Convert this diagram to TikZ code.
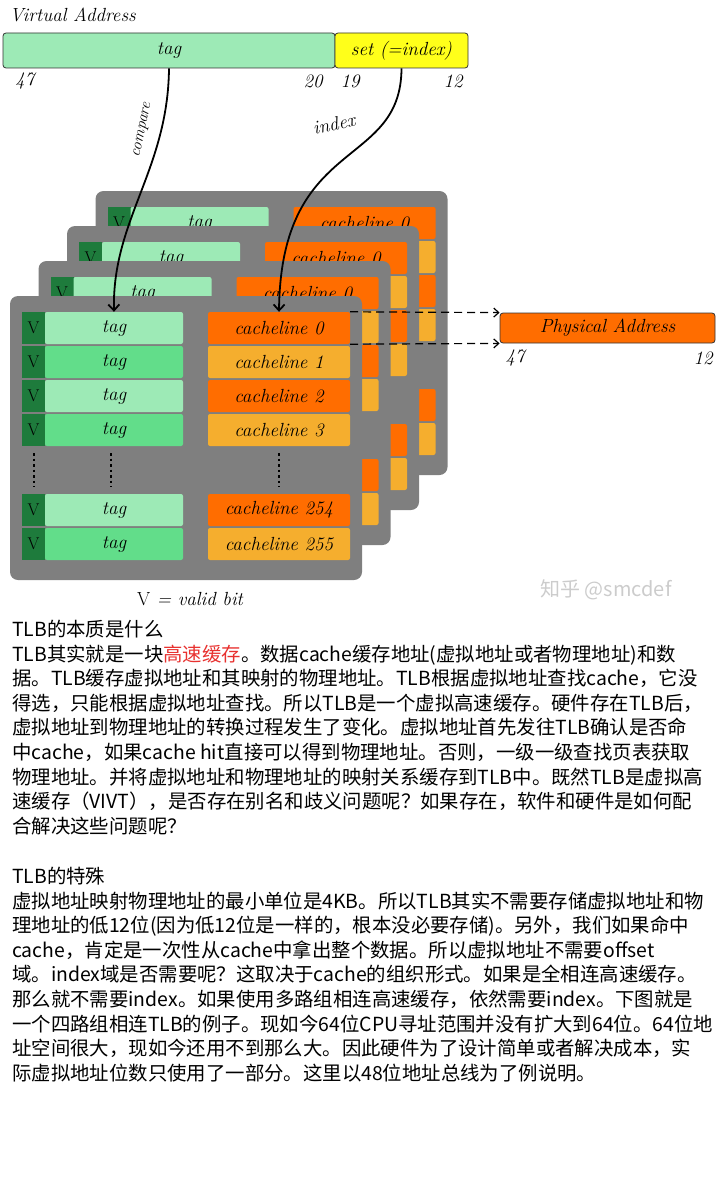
\documentclass[tikz,border=0pt]{standalone}
\usepackage{fontspec}
\usepackage{tikz}
\usetikzlibrary{arrows.meta,calc,positioning}
\newfontfamily\cjk{Noto Sans CJK SC}
\definecolor{panelgray}{HTML}{7F7F7F}
\definecolor{vgreen}{HTML}{1E7B3C}
\definecolor{taglight}{HTML}{9DEAB6}
\definecolor{tagmid}{HTML}{62DD8A}
\definecolor{clorange}{HTML}{FF6D00}
\definecolor{clyellow}{HTML}{F5AE2E}
\definecolor{setyellow}{HTML}{FFFF1A}
\definecolor{hlred}{HTML}{E8312F}
\tikzset{
	hand/.style={font=\itshape\fontsize{19}{22}\selectfont},
	bar/.style={draw=black!80, line width=0.8pt, rounded corners=3pt, minimum height=35pt, inner sep=0pt, hand},
	vcell/.style={fill=vgreen, minimum width=23pt, minimum height=32pt, inner sep=0pt, font=\fontsize{17}{20}\selectfont},
	tagcell/.style={minimum width=138pt, minimum height=32pt, inner sep=0pt, rounded corners=2pt, hand},
	clcell/.style={minimum width=142pt, minimum height=32pt, inner sep=0pt, rounded corners=2pt, hand},
	link/.style={line width=1.8pt, -{Straight Barb[length=6pt,width=11pt]}},
	linklabel/.style={hand, inner sep=0pt},
	hit/.style={line width=1.2pt, dash pattern=on 8pt off 5pt, -{Straight Barb[length=5pt,width=9pt]}},
	prose/.style={anchor=north west, align=left, inner sep=0pt, font=\cjk\fontsize{19.4}{24.6}\selectfont}
}
\begin{document}
\begin{tikzpicture}[x=1pt, y=-1pt]
	\useasboundingbox (0,0) rectangle (720,1180);
	% virtual address
	\node[hand, anchor=west] (vatitle) at (6,15) {Virtual Address};
	\node[bar, fill=taglight, minimum width=332pt] (tagbar) at (169,50.5) {tag};
	\node[bar, fill=setyellow, minimum width=133pt] (setbar) at (401.5,50.5) {set (=index)};
	\node[hand] (va47) at (25,81) {47};
	\node[hand] (va20) at (313,81) {20};
	\node[hand] (va19) at (350,81) {19};
	\node[hand] (va12) at (453,81) {12};
	% four ways, back to front
	\foreach \k in {3,2,1,0}{
		\begin{scope}[shift={(28.5*\k,-35*\k)}]
			\fill[panelgray, rounded corners=8pt] (10,296) rectangle (362,580);
			\foreach \y/\tc/\cc/\n [count=\i] in {328/taglight/clorange/0, 362/tagmid/clyellow/1, 396/taglight/clorange/2, 430/tagmid/clyellow/3, 510/taglight/clorange/254, 544/tagmid/clyellow/255}{
				% only the front way and the top row show their text
				\pgfmathsetmacro{\shown}{(\k==0 || \i==1) ? 1 : 0}
				\ifnum\shown=1
					\node[vcell] (v\k-\i) at (33.5,\y) {V};
					\node[tagcell, fill=\tc] (tag\k-\i) at (114,\y) {tag};
					\node[clcell, fill=\cc] (cl\k-\i) at (279,\y) {cacheline \n};
				\else
					\node[vcell] (v\k-\i) at (33.5,\y) {};
					\node[tagcell, fill=\tc] (tag\k-\i) at (114,\y) {};
					\node[clcell, fill=\cc] (cl\k-\i) at (279,\y) {};
				\fi
			}
			\foreach \x in {33.5,111,279}
				\draw[line width=2pt, dash pattern=on 2.5pt off 3pt] (\x,453) -- (\x,487);
		\end{scope}
	}
	\draw[link] (tagbar.south) .. controls (168,170) and (112,220) .. (tag0-1.north);
	\node[linklabel, font=\itshape\fontsize{16}{18}\selectfont, rotate=78] (cmplbl) at (143,130) {compare};
	\draw[link] (setbar.south) .. controls (401,170) and (281,135) .. (cl0-1.north);
	\node[linklabel, rotate=12] (idxlbl) at (334,124) {index};
	% physical address
	\node[bar, fill=clorange, minimum width=215pt, minimum height=30pt] (pa) at (607.5,328) {Physical Address};
	\node[hand] (pa47) at (515,358) {47};
	\node[hand] (pa12) at (703,358) {12};
	\draw[hit] (cl0-1.north east) -- (pa.north west);
	\draw[hit] (cl0-1.south east) -- (pa.south west);
	\node[hand] (vnote) at (190,599) {{\upshape V} = valid bit};
	\node[text=gray!40, font=\cjk\fontsize{20}{24}\selectfont] (mark) at (606,590) {知乎 @smcdef};
	% text
	\node[prose] (sec1) at (12,620) {TLB的本质是什么\\
		TLB其实就是一块\textcolor{hlred}{高速缓存}。数据cache缓存地址(虚拟地址或者物理地址)和数\\
		据。TLB缓存虚拟地址和其映射的物理地址。TLB根据虚拟地址查找cache，它没\\
		得选，只能根据虚拟地址查找。所以TLB是一个虚拟高速缓存。硬件存在TLB后，\\
		虚拟地址到物理地址的转换过程发生了变化。虚拟地址首先发往TLB确认是否命\\
		中cache，如果cache hit直接可以得到物理地址。否则，一级一级查找页表获取\\
		物理地址。并将虚拟地址和物理地址的映射关系缓存到TLB中。既然TLB是虚拟高\\
		速缓存（VIVT），是否存在别名和歧义问题呢？如果存在，软件和硬件是如何配\\
		合解决这些问题呢？};
	\node[prose] (sec2) at (12,867) {TLB的特殊\\
		虚拟地址映射物理地址的最小单位是4KB。所以TLB其实不需要存储虚拟地址和物\\
		理地址的低12位(因为低12位是一样的，根本没必要存储)。另外，我们如果命中\\
		cache，肯定是一次性从cache中拿出整个数据。所以虚拟地址不需要offset\\
		域。index域是否需要呢？这取决于cache的组织形式。如果是全相连高速缓存。\\
		那么就不需要index。如果使用多路组相连高速缓存，依然需要index。下图就是\\
		一个四路组相连TLB的例子。现如今64位CPU寻址范围并没有扩大到64位。64位地\\
		址空间很大，现如今还用不到那么大。因此硬件为了设计简单或者解决成本，实\\
		际虚拟地址位数只使用了一部分。这里以48位地址总线为了例说明。};
\end{tikzpicture}
\end{document}
